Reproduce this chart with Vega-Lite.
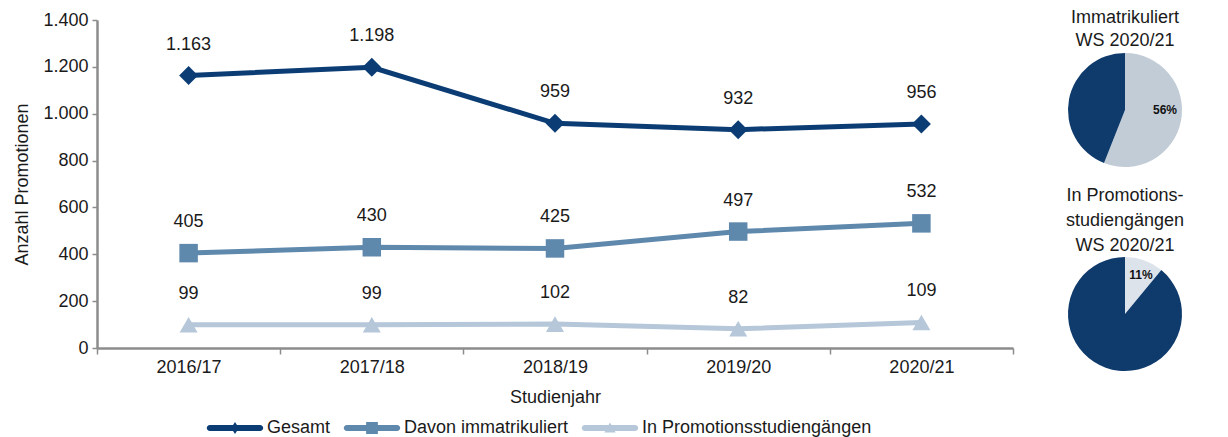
{
  "$schema": "https://vega.github.io/schema/vega-lite/v6.json",
  "padding": {"left": 13, "top": 8, "right": 5, "bottom": 5},
  "background": "white",
  "config": {
    "font": "Liberation Sans",
    "view": {"stroke": null},
    "locale": {"number": {"decimal": ",", "thousands": ".", "grouping": [3], "currency": ["", " €"]}}
  },
  "resolve": {"scale": {"color": "independent"}},
  "spacing": 14,
  "hconcat": [
    {
      "width": 916,
      "height": 328,
      "data": {"values": [
        {"Jahr": "2016/17", "Serie": "Gesamt", "Wert": 1163},
        {"Jahr": "2017/18", "Serie": "Gesamt", "Wert": 1198},
        {"Jahr": "2018/19", "Serie": "Gesamt", "Wert": 959},
        {"Jahr": "2019/20", "Serie": "Gesamt", "Wert": 932},
        {"Jahr": "2020/21", "Serie": "Gesamt", "Wert": 956},
        {"Jahr": "2016/17", "Serie": "Davon immatrikuliert", "Wert": 405},
        {"Jahr": "2017/18", "Serie": "Davon immatrikuliert", "Wert": 430},
        {"Jahr": "2018/19", "Serie": "Davon immatrikuliert", "Wert": 425},
        {"Jahr": "2019/20", "Serie": "Davon immatrikuliert", "Wert": 497},
        {"Jahr": "2020/21", "Serie": "Davon immatrikuliert", "Wert": 532},
        {"Jahr": "2016/17", "Serie": "In Promotionsstudiengängen", "Wert": 99},
        {"Jahr": "2017/18", "Serie": "In Promotionsstudiengängen", "Wert": 99},
        {"Jahr": "2018/19", "Serie": "In Promotionsstudiengängen", "Wert": 102},
        {"Jahr": "2019/20", "Serie": "In Promotionsstudiengängen", "Wert": 82},
        {"Jahr": "2020/21", "Serie": "In Promotionsstudiengängen", "Wert": 109}
      ]},
      "encoding": {
        "x": {"field": "Jahr", "type": "nominal", "bandPosition": 0.5,
          "scale": {"type": "band", "paddingInner": 0, "paddingOuter": 0},
          "axis": {"title": "Studienjahr", "labelAngle": 0, "tickBand": "extent", "domainColor": "#8c8c8c", "domainWidth": 2.5, "tickColor": "#8c8c8c", "tickWidth": 1.5, "tickSize": 6, "labelFontSize": 18, "labelColor": "#1a1a1a", "labelPadding": 4, "titleFontSize": 18, "titleFontWeight": "normal", "titleColor": "#1a1a1a", "titlePadding": 12}},
        "y": {"field": "Wert", "type": "quantitative",
          "scale": {"domain": [0, 1400]},
          "axis": {"title": "Anzahl Promotionen", "values": [0, 200, 400, 600, 800, 1000, 1200, 1400], "format": ",d", "grid": false, "domainColor": "#8c8c8c", "domainWidth": 2.5, "tickColor": "#8c8c8c", "tickWidth": 1.5, "tickSize": 5, "labelFontSize": 18, "labelColor": "#1a1a1a", "labelPadding": 4, "titleFontSize": 18, "titleFontWeight": "normal", "titleColor": "#1a1a1a", "titlePadding": 11}},
        "color": {"field": "Serie", "type": "nominal",
          "scale": {"domain": ["Gesamt", "Davon immatrikuliert", "In Promotionsstudiengängen"], "range": ["#0b3d74", "#5f88ad", "#b5c7d9"]},
          "legend": {"title": null, "orient": "none", "legendX": 110, "legendY": 380, "direction": "horizontal", "labelFontSize": 18, "labelColor": "#1a1a1a", "labelLimit": 500, "symbolSize": 3136, "symbolStrokeWidth": 0, "columnPadding": 12, "labelOffset": 4,
            "encode": {"symbols": {"update": {
              "shape": {"signal": "datum.value === 'Gesamt' ? 'M-0.9,-0.107H0.9A0.107,0.107 0 0 1 0.9,0.107H-0.9A0.107,0.107 0 0 1 -0.9,-0.107Z M0,-0.21L0.14,0L0,0.21L-0.14,0Z' : datum.value === 'Davon immatrikuliert' ? 'M-0.9,-0.107H0.9A0.107,0.107 0 0 1 0.9,0.107H-0.9A0.107,0.107 0 0 1 -0.9,-0.107Z M-0.21,-0.21H0.21V0.21H-0.21Z' : 'M-0.9,-0.107H0.9A0.107,0.107 0 0 1 0.9,0.107H-0.9A0.107,0.107 0 0 1 -0.9,-0.107Z M0,-0.2L0.2,0.16L-0.2,0.16Z'"},
              "fill": {"signal": "datum.value === 'Gesamt' ? '#0b3d74' : datum.value === 'Davon immatrikuliert' ? '#5f88ad' : '#b5c7d9'"},
              "stroke": {"value": "transparent"},
              "opacity": {"value": 1}
            }}}}}
      },
      "layer": [
        {"mark": {"type": "line", "strokeWidth": 5}},
        {"mark": {"type": "point", "filled": true, "opacity": 1},
          "encoding": {
            "shape": {"field": "Serie", "type": "nominal",
              "scale": {"domain": ["Gesamt", "Davon immatrikuliert", "In Promotionsstudiengängen"], "range": ["diamond", "square", "triangle-up"]},
              "legend": null},
            "size": {"field": "Serie", "type": "nominal",
              "scale": {"domain": ["Gesamt", "Davon immatrikuliert", "In Promotionsstudiengängen"], "range": [360, 324, 380]},
              "legend": null}
          }},
        {"mark": {"type": "text", "dy": -31, "fontSize": 18, "color": "#1a1a1a"},
          "encoding": {"text": {"field": "Wert", "type": "quantitative", "format": ",d"}, "color": {"value": "#1a1a1a"}}}
      ]
    },
    {
      "width": 194,
      "height": 410,
      "encoding": {
        "y": {"datum": 0, "type": "quantitative", "scale": {"domain": [0, 410], "reverse": true, "nice": false, "zero": false}, "axis": null}
      },
      "layer": [
        {
          "data": {"values": [{"Titel": "Immatrikuliert\nWS 2020/21"}]},
          "mark": {"type": "text", "lineBreak": "\n", "lineHeight": 23, "fontSize": 18, "color": "#1a1a1a", "baseline": "middle"},
          "encoding": {"text": {"field": "Titel"}, "y": {"datum": -2.5, "type": "quantitative"}}
        },
        {
          "data": {"values": [{"Titel": "In Promotions-\nstudiengängen\nWS 2020/21"}]},
          "mark": {"type": "text", "lineBreak": "\n", "lineHeight": 25, "fontSize": 18, "color": "#1a1a1a", "baseline": "middle"},
          "encoding": {"text": {"field": "Titel"}, "y": {"datum": 175.5, "type": "quantitative"}}
        },
        {
          "data": {"values": [
            {"Segment": "Immatrikuliert", "Anteil": 56, "Ord": 1},
            {"Segment": "Nicht immatrikuliert", "Anteil": 44, "Ord": 2}
          ]},
          "mark": {"type": "arc", "outerRadius": 57},
          "encoding": {
            "theta": {"field": "Anteil", "type": "quantitative", "stack": true},
            "order": {"field": "Ord", "type": "quantitative"},
            "y": {"datum": 90, "type": "quantitative"},
            "color": {"field": "Segment", "type": "nominal", "legend": null,
              "scale": {"domain": ["Immatrikuliert", "Nicht immatrikuliert", "In Promotionsstudiengängen", "Nicht in Promotionsstudiengängen"], "range": ["#c2ccd7", "#0f3b6c", "#dde3ea", "#0f3b6c"]}}
          }
        },
        {
          "data": {"values": [
            {"Segment": "In Promotionsstudiengängen", "Anteil": 11, "Ord": 1},
            {"Segment": "Nicht in Promotionsstudiengängen", "Anteil": 89, "Ord": 2}
          ]},
          "mark": {"type": "arc", "outerRadius": 57},
          "encoding": {
            "theta": {"field": "Anteil", "type": "quantitative", "stack": true},
            "order": {"field": "Ord", "type": "quantitative"},
            "y": {"datum": 294, "type": "quantitative"},
            "color": {"field": "Segment", "type": "nominal", "legend": null}
          }
        },
        {
          "data": {"values": [{"Label": "56%"}]},
          "mark": {"type": "text", "fontSize": 12, "fontWeight": "bold", "color": "#111111", "dx": 40, "baseline": "middle"},
          "encoding": {"text": {"field": "Label"}, "y": {"datum": 90, "type": "quantitative"}}
        },
        {
          "data": {"values": [{"Label": "11%"}]},
          "mark": {"type": "text", "fontSize": 12, "fontWeight": "bold", "color": "#111111", "dx": 16, "dy": -39, "baseline": "middle"},
          "encoding": {"text": {"field": "Label"}, "y": {"datum": 294, "type": "quantitative"}}
        }
      ]
    }
  ]
}
